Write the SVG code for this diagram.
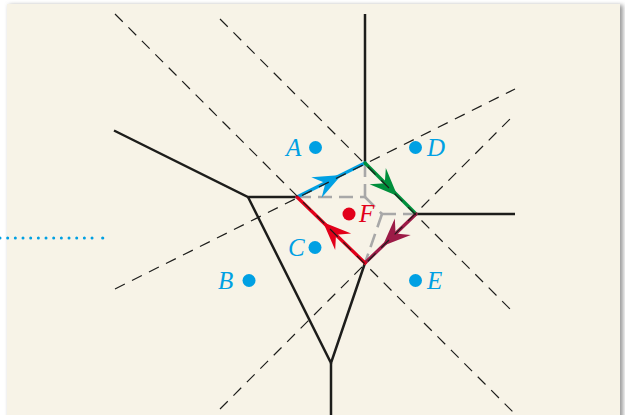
<svg xmlns="http://www.w3.org/2000/svg" xmlns:xlink="http://www.w3.org/1999/xlink" width="625" height="415" viewBox="0 0 625 415">
  <style>
    .solid { stroke: #1d1d1b; stroke-width: 2.5; fill: none; stroke-linejoin: miter; }
    .dash { stroke: #1d1d1b; stroke-width: 1.2; fill: none; stroke-dasharray: 11 8; }
    .gray { stroke: #a8a8a8; stroke-width: 2.6; fill: none; stroke-dasharray: 14 7; }
    .edge { stroke-width: 3.4; fill: none; stroke-linecap: round; }
    .lbl { font-family: "Liberation Serif", "Times New Roman", serif; font-style: italic; font-size: 25px; }
    .blue { fill: #00a0e3; }
    .red { fill: #e2001a; }
  </style>
  <defs>
    <filter id="sh" x="-5%" y="-5%" width="110%" height="110%">
      <feGaussianBlur stdDeviation="2"/>
    </filter>
    <path id="arr" d="M0,0 L-28,-11.5 L-18,0 L-28,11.5 Z"/>
  </defs>

  <!-- panel -->
  <rect x="9" y="5" width="614" height="420" fill="#9a9a9a" filter="url(#sh)"/>
  <rect x="7" y="4" width="613" height="420" fill="#f7f3e7"/>

  <!-- blue dotted line at left -->
  <line x1="0" y1="238" x2="96" y2="238" stroke="#00a0e3" stroke-width="3" stroke-linecap="round" stroke-dasharray="0 7.67"/>
  <circle cx="102.7" cy="238" r="1.6" fill="#00a0e3"/>

  <g id="connectors">
    <g id="voronoi">
      <line class="solid" x1="365" y1="14" x2="365" y2="163"/>
      <line class="solid" x1="416" y1="214" x2="515" y2="214"/>
      <polyline class="solid" points="297,197 248,197 114,130.5"/>
      <polyline class="solid" points="248,197 331,363 365,263"/>
      <line class="solid" x1="331" y1="363" x2="331" y2="415"/>
    </g>
    <g id="gray-dashed">
      <line class="gray" x1="365" y1="163" x2="365" y2="197"/>
      <line class="gray" x1="297" y1="197" x2="365" y2="197"/>
      <line class="gray" x1="365" y1="197" x2="382" y2="214"/>
      <line class="gray" x1="382" y1="214" x2="416" y2="214"/>
      <line class="gray" x1="382" y1="214" x2="365" y2="263"/>
    </g>
    <g id="cell-F">
      <line class="edge" stroke="#00a0e3" x1="297" y1="197" x2="365" y2="163"/>
      <line class="edge" stroke="#008f3c" x1="365" y1="163" x2="416" y2="214"/>
      <line class="edge" stroke="#9c1b47" x1="416" y1="214" x2="365" y2="263"/>
      <line class="edge" stroke="#e2001a" x1="365" y1="263" x2="297" y2="197"/>
      <use xlink:href="#arr" href="#arr" fill="#00a0e3" transform="translate(341.5,175) rotate(-26.57)"/>
      <use xlink:href="#arr" href="#arr" fill="#008f3c" transform="translate(397.5,196) rotate(45)"/>
      <use xlink:href="#arr" href="#arr" fill="#9c1b47" transform="translate(382.6,246.1) rotate(136.1)"/>
      <use xlink:href="#arr" href="#arr" fill="#e2001a" transform="translate(323.1,222.3) rotate(-135.85)"/>
    </g>
    <g id="dashed">
      <line class="dash" x1="115" y1="14" x2="513" y2="412"/>
      <line class="dash" x1="220" y1="19" x2="513" y2="312"/>
      <line class="dash" x1="115" y1="289" x2="515" y2="89"/>
      <line class="dash" x1="220" y1="409" x2="513" y2="116"/>
    </g>
  </g>

  <g id="node-A">
    <circle class="blue" cx="315.5" cy="147.5" r="6.5"/>
    <text class="lbl blue" x="286" y="156">A</text>
  </g>
  <g id="node-D">
    <circle class="blue" cx="415.5" cy="147.5" r="6.5"/>
    <text class="lbl blue" x="427" y="156">D</text>
  </g>
  <g id="node-B">
    <circle class="blue" cx="249" cy="280.5" r="6.5"/>
    <text class="lbl blue" x="218" y="289">B</text>
  </g>
  <g id="node-C">
    <circle class="blue" cx="315" cy="247.5" r="6.5"/>
    <text class="lbl blue" x="288" y="256">C</text>
  </g>
  <g id="node-E">
    <circle class="blue" cx="415.5" cy="280.5" r="6.5"/>
    <text class="lbl blue" x="427" y="289">E</text>
  </g>
  <g id="node-F">
    <circle class="red" cx="349" cy="214" r="6.5"/>
    <text class="lbl red" x="359" y="222">F</text>
  </g>
</svg>
